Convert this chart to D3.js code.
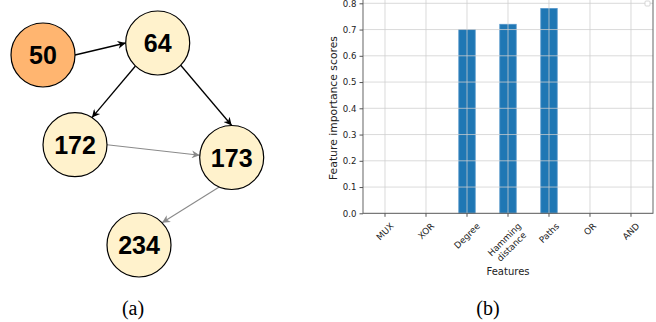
<!DOCTYPE html>
<html><head><meta charset="utf-8">
<script src="https://cdn.jsdelivr.net/npm/d3@7"></script>
<style>html,body{margin:0;padding:0;background:#fff;}svg{display:block;}</style>
</head><body>
<svg id="c" width="656" height="322"></svg>
<script>
// ---------- data ----------
// (a) graph
const nodeIds = ["50", "64", "172", "173", "234"];
const nodeLayoutX = [43, 157.7, 75, 231.7, 139];
const nodeLayoutY = [55, 43, 144.7, 157.5, 245];
const nodeIsSource = [true, false, false, false, false];
const edgeSource = ["50", "64", "64", "172", "173"];
const edgeTarget = ["64", "172", "173", "173", "234"];
const edgeStartAngle = [0, 134, 44, 0, 113];
const edgeEndAngle = [180, -58, -90, 184, -44];
const edgeIsPrimary = [true, true, true, false, false];
// (b) bar chart
const categories = ["MUX", "XOR", "Degree", "Hamming\ndistance", "Paths", "OR", "AND"];
const scores = [0, 0, 0.70, 0.72, 0.78, 0, 0];
const yTicks = [0.0, 0.1, 0.2, 0.3, 0.4, 0.5, 0.6, 0.7, 0.8];

const svg = d3.select("#c");
const serif = "'Liberation Serif', 'Times New Roman', Times, serif";
const sansBold = "'Liberation Sans', Arial, Helvetica, sans-serif";
const font = "'DejaVu Sans', sans-serif";

// ---------- (a) ----------
const gx = d3.scaleLinear().domain([0, 1]).range([0, 1]);
const gy = d3.scaleLinear().domain([0, 1]).range([0, 1]);
const R = 32;
const nodes = nodeIds.map((id, i) => ({id, x: gx(nodeLayoutX[i]), y: gy(nodeLayoutY[i]), src: nodeIsSource[i]}));
const byId = new Map(nodes.map(n => [n.id, n]));
const defs = svg.append("defs");
[["arBlack", "#000"], ["arGrey", "#8a8a8a"]].forEach(([id, col]) => {
  defs.append("marker").attr("id", id).attr("viewBox", "0 0 10 10")
    .attr("refX", 10).attr("refY", 5).attr("markerUnits", "userSpaceOnUse")
    .attr("markerWidth", 10).attr("markerHeight", 8).attr("orient", "auto")
    .append("path").attr("d", "M0,0 L10,5 L0,10 L3,5 Z").attr("fill", col);
});
const ga = svg.append("g");
edgeSource.forEach((s, i) => {
  const a = byId.get(s), b = byId.get(edgeTarget[i]);
  const t1 = edgeStartAngle[i] * Math.PI / 180, t2 = edgeEndAngle[i] * Math.PI / 180;
  ga.append("line")
    .attr("x1", a.x + R * Math.cos(t1)).attr("y1", a.y + R * Math.sin(t1))
    .attr("x2", b.x + R * Math.cos(t2)).attr("y2", b.y + R * Math.sin(t2))
    .attr("stroke", edgeIsPrimary[i] ? "#000" : "#8a8a8a")
    .attr("stroke-width", edgeIsPrimary[i] ? 1.3 : 1.1)
    .attr("marker-end", `url(#${edgeIsPrimary[i] ? "arBlack" : "arGrey"})`);
});
const ng = ga.selectAll("g.node").data(nodes).join("g").attr("transform", d => `translate(${d.x},${d.y})`);
ng.append("circle").attr("r", R).attr("fill", d => d.src ? "#FFB570" : "#FFF2CC").attr("stroke", "#000").attr("stroke-width", 1.2);
ng.append("text").text(d => d.id).attr("text-anchor", "middle").attr("dy", "0.36em")
  .attr("font-family", sansBold).attr("font-weight", "bold").attr("font-size", 25).attr("fill", "#000");
svg.append("text").text("(a)").attr("x", 133).attr("y", 315).attr("text-anchor", "middle")
  .attr("font-family", serif).attr("font-size", 20);

// ---------- (b) ----------
const L = 363, Rr = 653, B = 213.3;
const x = d3.scaleBand().domain(categories).range([L, Rr]).paddingInner(0.6).paddingOuter(0.337);
const y = d3.scaleLinear().domain([0, 0.8]).range([B, 3.3]);
const yTop = y(0.82);
const gb = svg.append("g");
// bars
gb.selectAll("rect.bar").data(categories).join("rect")
  .attr("x", d => x(d)).attr("width", x.bandwidth())
  .attr("y", (d, i) => y(scores[i])).attr("height", (d, i) => B - y(scores[i]))
  .attr("fill", "#1f77b4").attr("stroke", "#4f93c9").attr("stroke-width", 0.8);
// grid
const gridCol = "#cfcfcf";
gb.selectAll("line.vg").data(categories).join("line")
  .attr("x1", d => x(d) + x.bandwidth() / 2).attr("x2", d => x(d) + x.bandwidth() / 2)
  .attr("y1", yTop).attr("y2", B).attr("stroke", gridCol).attr("stroke-opacity", 0.85).attr("stroke-width", 0.9);
gb.selectAll("line.hg").data(yTicks).join("line")
  .attr("x1", L).attr("x2", Rr).attr("y1", d => y(d)).attr("y2", d => y(d))
  .attr("stroke", gridCol).attr("stroke-opacity", 0.85).attr("stroke-width", 0.9);
// spines
gb.append("rect").attr("x", L).attr("y", yTop).attr("width", Rr - L).attr("height", B - yTop)
  .attr("fill", "none").attr("stroke", "#555").attr("stroke-width", 0.9);
// y axis
const ya = gb.append("g").attr("transform", `translate(${L},0)`)
  .call(d3.axisLeft(y).tickValues(yTicks).tickFormat(d3.format(".1f")).tickSize(3.5).tickPadding(3));
ya.select(".domain").remove();
ya.selectAll("line").attr("stroke", "#555");
ya.selectAll("text").attr("font-family", font).attr("font-size", 8.6).attr("fill", "#222");
// x axis ticks
const xa = gb.append("g").attr("transform", `translate(0,${B})`)
  .call(d3.axisBottom(x).tickSize(3.5).tickFormat(""));
xa.select(".domain").remove();
xa.selectAll("line").attr("stroke", "#555");
// rotated x labels
const fs = 8.8, lh = fs * 1.15;
categories.forEach(c => {
  const lines = c.split("\n");
  const g = gb.append("g");
  const t = g.append("text").attr("font-family", font).attr("font-size", fs).attr("fill", "#222").attr("text-anchor", "middle");
  lines.forEach((ln, i) => t.append("tspan").attr("x", 0).attr("y", (i - (lines.length - 1) / 2) * lh).attr("dy", "0.35em").text(ln));
  const bb = t.node().getBBox();
  const w = bb.width, h = lines.length * lh;
  const H = (w + h) / Math.SQRT2;
  const cx = x(c) + x.bandwidth() / 2;
  g.attr("transform", `translate(${cx},${B + 7.5 + H / 2}) rotate(-45)`);
});
// axis labels
gb.append("text").text("Features").attr("x", (L + Rr) / 2).attr("y", 275).attr("text-anchor", "middle")
  .attr("font-family", font).attr("font-size", 10).attr("fill", "#222");
gb.append("text").text("Feature importance scores").attr("transform", `translate(333,108) rotate(-90)`)
  .attr("text-anchor", "middle").attr("dy", "0.35em").attr("font-family", font).attr("font-size", 10.8).attr("fill", "#222");
// tiny empty legend box
gb.append("rect").attr("x", 645).attr("y", 1).attr("width", 5).attr("height", 5).attr("rx", 1)
  .attr("fill", "#fff").attr("stroke", "#ccc").attr("stroke-width", 0.8);
svg.append("text").text("(b)").attr("x", 488).attr("y", 315).attr("text-anchor", "middle")
  .attr("font-family", serif).attr("font-size", 20);
</script>
</body></html>
